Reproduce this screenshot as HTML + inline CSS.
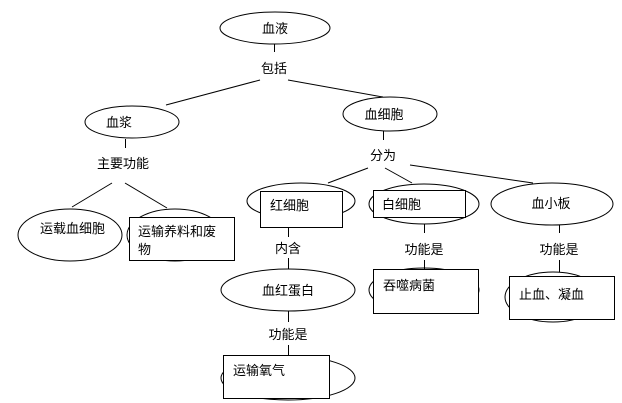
<!DOCTYPE html>
<html><head><meta charset="utf-8"><style>
html,body{margin:0;padding:0;background:#fff;}
svg{display:block;}
text{font-family:"Liberation Sans","Noto Sans CJK SC",sans-serif;font-size:13px;fill:#000;}
</style></head><body>
<svg width="622" height="403" viewBox="0 0 622 403" xmlns="http://www.w3.org/2000/svg">
<g fill="#fff" stroke="#000" stroke-width="1">
<ellipse cx="275" cy="28" rx="55" ry="16"/>
<ellipse cx="132" cy="122" rx="47" ry="16"/>
<ellipse cx="390" cy="114" rx="47" ry="17"/>
<ellipse cx="70" cy="235" rx="52" ry="26"/>
<ellipse cx="175" cy="235" rx="48" ry="26"/>
<rect x="129.5" y="217.5" width="105" height="43"/>
<ellipse cx="301" cy="201" rx="54" ry="18"/>
<rect x="260.5" y="191.5" width="82" height="36"/>
<ellipse cx="424" cy="204" rx="55" ry="20"/>
<rect x="373.5" y="190.5" width="92" height="27"/>
<ellipse cx="552" cy="204" rx="61" ry="21"/>
<ellipse cx="288" cy="290" rx="67" ry="21"/>
<ellipse cx="424" cy="290" rx="55" ry="22"/>
<rect x="373.5" y="269.5" width="105" height="44"/>
<ellipse cx="553" cy="297" rx="48" ry="25"/>
<rect x="509.5" y="276.5" width="105" height="43"/>
<ellipse cx="288" cy="378" rx="67" ry="22"/>
<rect x="223.5" y="355.5" width="106" height="43"/>
</g>
<g stroke="#000" stroke-width="1" fill="none">
<line x1="274.5" y1="44" x2="274.5" y2="52"/>
<line x1="260" y1="80" x2="166" y2="105"/>
<line x1="288" y1="80" x2="383" y2="97"/>
<line x1="125.5" y1="139" x2="125.5" y2="148"/>
<line x1="112" y1="183" x2="72" y2="207"/>
<line x1="125" y1="183" x2="167" y2="208"/>
<line x1="383.5" y1="131" x2="383.5" y2="140"/>
<line x1="368" y1="168" x2="328" y2="183"/>
<line x1="385" y1="168" x2="412" y2="183"/>
<line x1="410" y1="165" x2="533" y2="183"/>
<line x1="288.5" y1="227" x2="288.5" y2="237"/>
<line x1="288.5" y1="258" x2="288.5" y2="269"/>
<line x1="288.5" y1="311" x2="288.5" y2="322"/>
<line x1="288.5" y1="345" x2="288.5" y2="355"/>
<line x1="424.5" y1="224" x2="424.5" y2="233"/>
<line x1="424.5" y1="260" x2="424.5" y2="269"/>
<line x1="559.5" y1="225" x2="559.5" y2="233"/>
<line x1="559.5" y1="260" x2="559.5" y2="272"/>
</g>
<text x="275" y="33" text-anchor="middle">血液</text>
<text x="274" y="73" text-anchor="middle">包括</text>
<text x="119" y="127" text-anchor="middle">血浆</text>
<text x="384" y="119" text-anchor="middle">血细胞</text>
<text x="123" y="168" text-anchor="middle">主要功能</text>
<text x="383" y="160" text-anchor="middle">分为</text>
<text x="40" y="233">运载血细胞</text>
<text x="138" y="236">运输养料和废</text>
<text x="138" y="254">物</text>
<text x="270" y="210">红细胞</text>
<text x="382" y="209">白细胞</text>
<text x="551" y="208" text-anchor="middle">血小板</text>
<text x="288" y="253" text-anchor="middle">内含</text>
<text x="424" y="254" text-anchor="middle">功能是</text>
<text x="559" y="254" text-anchor="middle">功能是</text>
<text x="288" y="295" text-anchor="middle">血红蛋白</text>
<text x="383" y="290">吞噬病菌</text>
<text x="519" y="299">止血、凝血</text>
<text x="288" y="339" text-anchor="middle">功能是</text>
<text x="233" y="375">运输氧气</text>
</svg>
</body></html>
